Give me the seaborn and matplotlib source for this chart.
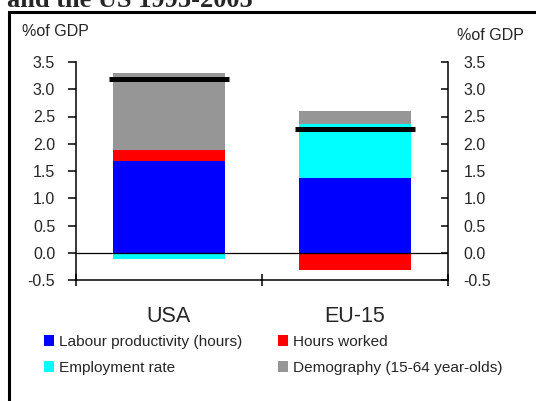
import matplotlib
matplotlib.use("Agg")
import matplotlib.pyplot as plt
import seaborn as sns
import numpy as np
import pandas as pd
from matplotlib.patches import Patch
from matplotlib.lines import Line2D

# Contributions to GDP growth, % of GDP
regions = ["USA", "EU-15"]
labour_productivity = [1.675, 1.38]
employment_rate = [-0.12, 0.99]
hours_worked = [0.215, -0.31]
demography = [1.41, 0.24]
gdp_growth = [3.19, 2.27]
yticks = [-0.5, 0.0, 0.5, 1.0, 1.5, 2.0, 2.5, 3.0, 3.5]

components = [
    ("Labour productivity (hours)", labour_productivity, "#0000ff"),
    ("Employment rate", employment_rate, "#00ffff"),
    ("Hours worked", hours_worked, "#ff0000"),
    ("Demography (15-64 year-olds)", demography, "#969696"),
]

sns.set_theme(style="white")
plt.rcParams["font.family"] = ["Liberation Sans", "DejaVu Sans"]

fig = plt.figure(figsize=(5.36, 4.01), dpi=100)
fig.patch.set_facecolor("white")
ax = fig.add_axes([76 / 536, 1 - 280 / 401, (448 - 76) / 536, (280 - 62) / 401])

# stacked bars: positive parts pile up from zero, negative parts go down from zero
pos_base = np.zeros(len(regions))
neg_base = np.zeros(len(regions))
for name, vals, color in components:
    vals = np.asarray(vals, dtype=float)
    bottom = np.where(vals >= 0, pos_base, neg_base)
    df = pd.DataFrame({"region": regions, "value": vals})
    sns.barplot(data=df, x="region", y="value", order=regions, color=color,
                saturation=1, width=0.6, bottom=bottom, linewidth=0,
                errorbar=None, ax=ax)
    pos_base += np.clip(vals, 0, None)
    neg_base += np.clip(vals, None, 0)

# total growth markers
xpos = np.arange(len(regions))
ax.hlines(gdp_growth, xpos - 0.325, xpos + 0.325, color="black", lw=3.6, zorder=5)
ax.axhline(0, color="black", lw=0.9, zorder=4)

ax.set_xlim(-0.5, len(regions) - 0.5)
ax.set_ylim(-0.5, 3.5)
ax.set_yticks(yticks)
ax.set_yticklabels([f"{v:.1f}" for v in yticks], fontsize=11.5)
ax.set_xlabel("")
ax.set_ylabel("")
ax.tick_params(axis="y", direction="out", length=6, width=1.1, color="black",
               pad=9, left=True)
ax.set_xticks(xpos)
ax.set_xticklabels(regions, fontsize=15.5)
ax.tick_params(axis="x", which="major", length=0, pad=19)
ax.set_xticks(np.arange(len(regions) + 1) - 0.5, minor=True)
ax.tick_params(axis="x", which="minor", direction="inout", length=8, width=1.1,
               color="black", bottom=True)
for side in ["top", "right"]:
    ax.spines[side].set_visible(False)
for side in ["left", "bottom"]:
    ax.spines[side].set_color("black")
    ax.spines[side].set_linewidth(1.1)

ax2 = ax.twinx()
ax2.set_ylim(-0.5, 3.5)
ax2.set_yticks(yticks)
ax2.set_yticklabels([f"{v:.1f}" for v in yticks], fontsize=11.5)
ax2.tick_params(axis="y", direction="in", length=5, width=1.1, color="black",
                pad=11, right=True)
for side in ["top", "left", "bottom"]:
    ax2.spines[side].set_visible(False)
ax2.spines["right"].set_color("black")
ax2.spines["right"].set_linewidth(1.1)

fig.text(22 / 536, 1 - 31 / 401, "%of GDP", fontsize=11.5, va="center", ha="left")
fig.text(457 / 536, 1 - 36 / 401, "%of GDP", fontsize=11.5, va="center", ha="left")

fig.text(7 / 536, 1 - 7 / 401, "and the US 1995-2005", fontsize=19,
         fontfamily="Liberation Serif", fontweight="bold", va="baseline", ha="left")

fig.add_artist(Line2D([9 / 536, 9 / 536, 1], [0, 1 - 12 / 401, 1 - 12 / 401],
                      transform=fig.transFigure, color="black", lw=2.2,
                      solid_joinstyle="miter"))

handles = [Patch(facecolor=c, edgecolor="none") for _, _, c in components]
labels = [n for n, _, _ in components]
fig.legend(handles, labels, ncol=2, loc="upper left",
           bbox_to_anchor=(44 / 536, 1 - 335 / 401), frameon=False, fontsize=11.1,
           handlelength=0.65, handleheight=0.65, handletextpad=0.3,
           columnspacing=2.35, labelspacing=0.78, borderaxespad=0, borderpad=0)

fig.savefig("out.png", dpi=100, facecolor="white")
